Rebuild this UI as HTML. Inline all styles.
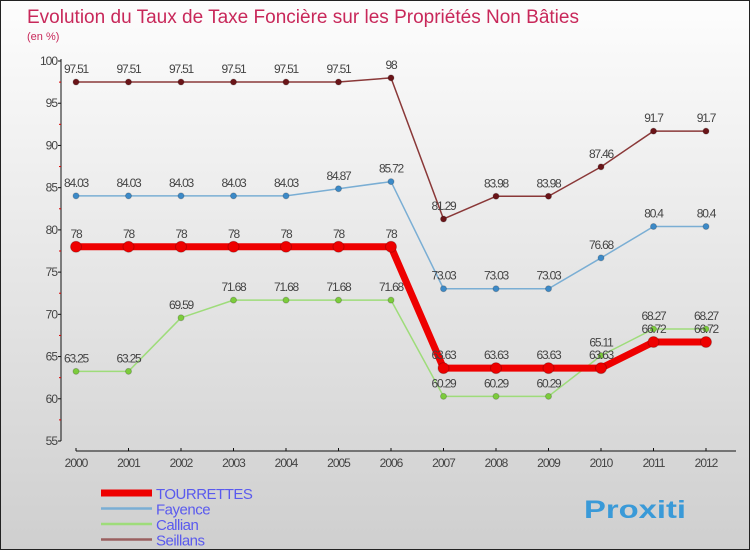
<!DOCTYPE html>
<html><head><meta charset="utf-8"><style>
body{margin:0}
#c{width:748px;height:548px;border:1px solid #222;background:linear-gradient(#fdfdfd,#cfcfcf);position:relative;font-family:"Liberation Sans",sans-serif}
</style></head><body>
<div id="c">
<svg id="s" width="748" height="548" xmlns="http://www.w3.org/2000/svg" font-family="Liberation Sans,sans-serif">
<text x="26" y="22" font-size="19" fill="#c8285a" textLength="552" lengthAdjust="spacingAndGlyphs">Evolution du Taux de Taxe Foncière sur les Propriétés Non Bâties</text>
<text x="26" y="39" font-size="11" fill="#c8285a">(en %)</text>
</svg>
</div>
<script>
const years=["2000","2001","2002","2003","2004","2005","2006","2007","2008","2009","2010","2011","2012"];
const yTicks=[55,60,65,70,75,80,85,90,95,100];
const tourrettes=[78,78,78,78,78,78,78,63.63,63.63,63.63,63.63,66.72,66.72];
const fayence=[84.03,84.03,84.03,84.03,84.03,84.87,85.72,73.03,73.03,73.03,76.68,80.4,80.4];
const callian=[63.25,63.25,69.59,71.68,71.68,71.68,71.68,60.29,60.29,60.29,65.11,68.27,68.27];
const seillans=[97.51,97.51,97.51,97.51,97.51,97.51,98,81.29,83.98,83.98,87.46,91.7,91.7];
const NS="http://www.w3.org/2000/svg",svg=document.getElementById('s');
const X=i=>75+i*52.5, Y=v=>60+(100-v)*(380/45);
function el(t,a,p){const e=document.createElementNS(NS,t);for(const k in a)e.setAttribute(k,a[k]);(p||svg).appendChild(e);return e;}
const ax=el('g',{});
el('line',{x1:60,y1:58,x2:60,y2:440,stroke:'#111'},ax);
el('line',{x1:75,y1:450,x2:735,y2:450,stroke:'#111'},ax);
yTicks.forEach(v=>{el('line',{x1:57,x2:60,y1:Y(v),y2:Y(v),stroke:'#111'},ax);
const t=el('text',{x:56,y:Y(v)+4,'text-anchor':'end','font-size':12,fill:'#444','letter-spacing':'-1'},ax);t.textContent=v;

if(v<100)el('line',{x1:58,x2:60,y1:Y(v+2.5),y2:Y(v+2.5),stroke:'#d00'},ax);});
years.forEach((y,i)=>{el('line',{x1:X(i),x2:X(i),y1:447,y2:450,stroke:'#111'},ax);
const t=el('text',{x:X(i),y:466,'text-anchor':'middle','font-size':12,fill:'#444','letter-spacing':'-1'},ax);t.textContent=y;
});
function series(d,col,dot,w,r,name){
const g=el('g',{});
el('polyline',{points:d.map((v,i)=>X(i)+','+Y(v)).join(' '),fill:'none',stroke:col,'stroke-width':w,'stroke-linejoin':'round'},g);
d.forEach((v,i)=>{const c=el('circle',{cx:X(i),cy:Y(v),r:r,fill:dot,stroke:'#0003'},g);

const t=el('text',{x:X(i),y:Y(v)-9,'text-anchor':'middle','font-size':12,fill:'#444','letter-spacing':'-1.2'},g);t.textContent=v;
});}
series(callian,'#9edc7a','#7ccc3c',1.5,3,'callian');
series(fayence,'#7aaed4','#3c8ac8',1.5,3,'fayence');
series(seillans,'#8a3838','#6a1418',1.5,3,'seillans');
series(tourrettes,'#ee0000','#ee0000',7,5.5,'tourrettes');
const lg=el('g',{});
[['TOURRETTES','#ee0000',7],['Fayence','#7aaed4',2.5],['Callian','#9edc7a',2.5],['Seillans','#9a6060',2.5]].forEach((e,i)=>{
const yy=492+i*15.5;el('line',{x1:100,x2:151,y1:yy,y2:yy,stroke:e[1],'stroke-width':e[2]},lg);
const t=el('text',{x:155,y:yy+6,'font-size':15,fill:'#5a5aee','letter-spacing':'-0.5'},lg);t.textContent=e[0];
});
const b=el('text',{x:583,y:517,'font-size':25,'font-weight':'bold',fill:'#3a9ad8',textLength:102,lengthAdjust:'spacingAndGlyphs'});b.textContent='Proxiti';

</script>
</body></html>
